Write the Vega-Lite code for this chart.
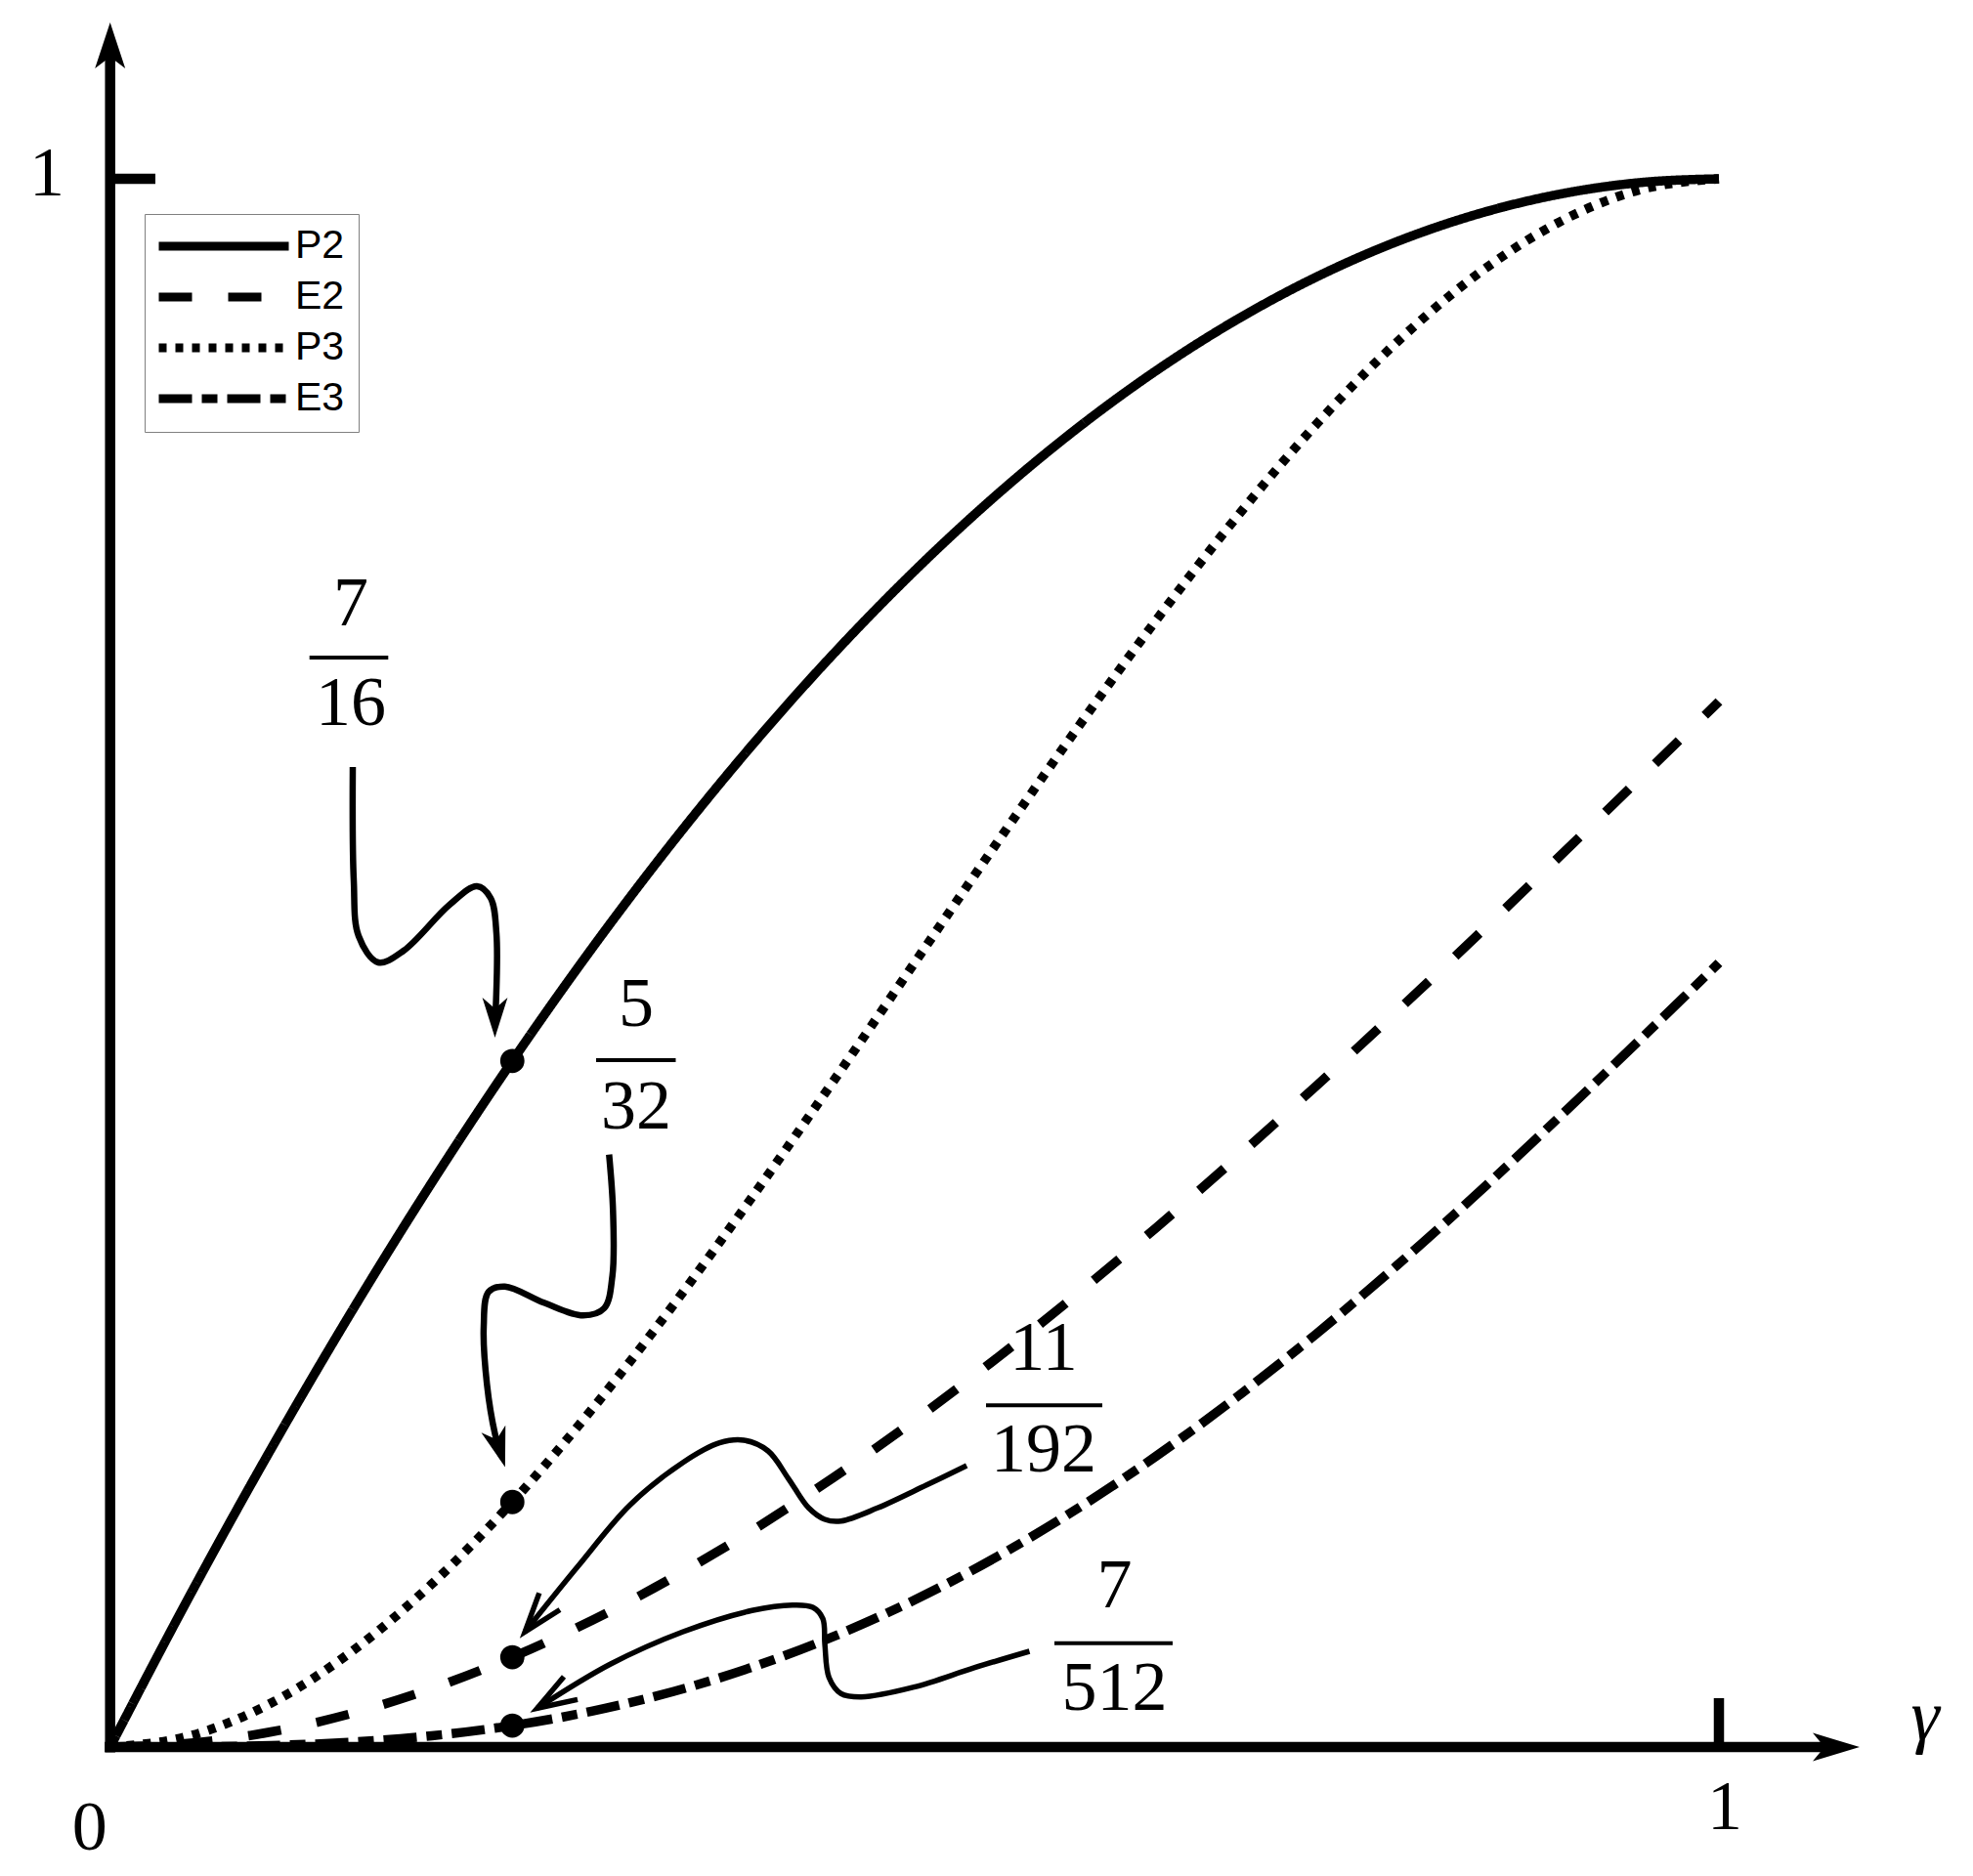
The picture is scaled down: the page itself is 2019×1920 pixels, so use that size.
{
  "$schema": "https://vega.github.io/schema/vega-lite/v6.json",
  "width": 2019,
  "height": 1920,
  "padding": 0,
  "autosize": {"type": "none"},
  "background": "white",
  "config": {"view": {"stroke": null}},
  "datasets": {
    "curves": [
      {"series": "P2", "g": 0, "v": 0}, {"series": "P2", "g": 0.05, "v": 0.0975}, {"series": "P2", "g": 0.1, "v": 0.19}, {"series": "P2", "g": 0.15, "v": 0.2775}, {"series": "P2", "g": 0.2, "v": 0.36}, {"series": "P2", "g": 0.25, "v": 0.4375}, {"series": "P2", "g": 0.3, "v": 0.51}, {"series": "P2", "g": 0.35, "v": 0.5775}, {"series": "P2", "g": 0.4, "v": 0.64}, {"series": "P2", "g": 0.45, "v": 0.6975}, {"series": "P2", "g": 0.5, "v": 0.75}, {"series": "P2", "g": 0.55, "v": 0.7975}, {"series": "P2", "g": 0.6, "v": 0.84}, {"series": "P2", "g": 0.65, "v": 0.8775}, {"series": "P2", "g": 0.7, "v": 0.91}, {"series": "P2", "g": 0.75, "v": 0.9375}, {"series": "P2", "g": 0.8, "v": 0.96}, {"series": "P2", "g": 0.85, "v": 0.9775}, {"series": "P2", "g": 0.9, "v": 0.99}, {"series": "P2", "g": 0.95, "v": 0.9975}, {"series": "P2", "g": 1, "v": 1},
      {"series": "E2", "g": 0, "v": 0}, {"series": "E2", "g": 0.05, "v": 0.002458}, {"series": "E2", "g": 0.1, "v": 0.009667}, {"series": "E2", "g": 0.15, "v": 0.021375}, {"series": "E2", "g": 0.2, "v": 0.037333}, {"series": "E2", "g": 0.25, "v": 0.057292}, {"series": "E2", "g": 0.3, "v": 0.081}, {"series": "E2", "g": 0.35, "v": 0.108208}, {"series": "E2", "g": 0.4, "v": 0.138667}, {"series": "E2", "g": 0.45, "v": 0.172125}, {"series": "E2", "g": 0.5, "v": 0.208333}, {"series": "E2", "g": 0.55, "v": 0.247042}, {"series": "E2", "g": 0.6, "v": 0.288}, {"series": "E2", "g": 0.65, "v": 0.330958}, {"series": "E2", "g": 0.7, "v": 0.375667}, {"series": "E2", "g": 0.75, "v": 0.421875}, {"series": "E2", "g": 0.8, "v": 0.469333}, {"series": "E2", "g": 0.85, "v": 0.517792}, {"series": "E2", "g": 0.9, "v": 0.567}, {"series": "E2", "g": 0.95, "v": 0.616708}, {"series": "E2", "g": 1, "v": 0.666667},
      {"series": "P3", "g": 0, "v": 0}, {"series": "P3", "g": 0.05, "v": 0.00725}, {"series": "P3", "g": 0.1, "v": 0.028}, {"series": "P3", "g": 0.15, "v": 0.06075}, {"series": "P3", "g": 0.2, "v": 0.104}, {"series": "P3", "g": 0.25, "v": 0.15625}, {"series": "P3", "g": 0.3, "v": 0.216}, {"series": "P3", "g": 0.35, "v": 0.28175}, {"series": "P3", "g": 0.4, "v": 0.352}, {"series": "P3", "g": 0.45, "v": 0.42525}, {"series": "P3", "g": 0.5, "v": 0.5}, {"series": "P3", "g": 0.55, "v": 0.57475}, {"series": "P3", "g": 0.6, "v": 0.648}, {"series": "P3", "g": 0.65, "v": 0.71825}, {"series": "P3", "g": 0.7, "v": 0.784}, {"series": "P3", "g": 0.75, "v": 0.84375}, {"series": "P3", "g": 0.8, "v": 0.896}, {"series": "P3", "g": 0.85, "v": 0.93925}, {"series": "P3", "g": 0.9, "v": 0.972}, {"series": "P3", "g": 0.95, "v": 0.99275}, {"series": "P3", "g": 1, "v": 1},
      {"series": "E3", "g": 0, "v": 0}, {"series": "E3", "g": 0.05, "v": 0.000122}, {"series": "E3", "g": 0.1, "v": 0.00095}, {"series": "E3", "g": 0.15, "v": 0.003122}, {"series": "E3", "g": 0.2, "v": 0.0072}, {"series": "E3", "g": 0.25, "v": 0.013672}, {"series": "E3", "g": 0.3, "v": 0.02295}, {"series": "E3", "g": 0.35, "v": 0.035372}, {"series": "E3", "g": 0.4, "v": 0.0512}, {"series": "E3", "g": 0.45, "v": 0.070622}, {"series": "E3", "g": 0.5, "v": 0.09375}, {"series": "E3", "g": 0.55, "v": 0.120622}, {"series": "E3", "g": 0.6, "v": 0.1512}, {"series": "E3", "g": 0.65, "v": 0.185372}, {"series": "E3", "g": 0.7, "v": 0.22295}, {"series": "E3", "g": 0.75, "v": 0.263672}, {"series": "E3", "g": 0.8, "v": 0.3072}, {"series": "E3", "g": 0.85, "v": 0.353122}, {"series": "E3", "g": 0.9, "v": 0.40095}, {"series": "E3", "g": 0.95, "v": 0.450122}, {"series": "E3", "g": 1, "v": 0.5}
    ],
    "axes": [
      {"x": 0, "x2": 0, "y": -0.00343, "y2": 1.07975},
      {"x": -0.00334, "x2": 1.06925, "y": 0, "y2": 0},
      {"x": 0, "x2": 0.02812, "y": 1, "y2": 1},
      {"x": 1, "x2": 1, "y": 0, "y2": 0.03115}
    ],
    "bars": [
      {"x": 0.12391, "x2": 0.17287, "y": 0.6947, "y2": 0.6947},
      {"x": 0.30207, "x2": 0.35157, "y": 0.43801, "y2": 0.43801},
      {"x": 0.54444, "x2": 0.61672, "y": 0.21788, "y2": 0.21788},
      {"x": 0.58695, "x2": 0.66045, "y": 0.06623, "y2": 0.06623}
    ],
    "labels": [
      {"t": "1", "x": -0.0393, "y": 1.00312},
      {"t": "0", "x": -0.01276, "y": -0.05202},
      {"t": "1", "x": 1.00364, "y": -0.03832},
      {"t": "7", "x": 0.14961, "y": 0.72897},
      {"t": "16", "x": 0.14961, "y": 0.66542},
      {"t": "5", "x": 0.32698, "y": 0.47352},
      {"t": "32", "x": 0.32698, "y": 0.4081},
      {"t": "11", "x": 0.58027, "y": 0.25421},
      {"t": "192", "x": 0.58027, "y": 0.18941},
      {"t": "7", "x": 0.6243, "y": 0.1028},
      {"t": "512", "x": 0.6243, "y": 0.03769}
    ],
    "dots": [
      {"x": 0.25, "y": 0.4375}, {"x": 0.25, "y": 0.15625}, {"x": 0.25, "y": 0.057292}, {"x": 0.25, "y": 0.013672}
    ],
    "arrowsThick": [
      {"arrow": "A", "i": 0, "x": 0.15082, "y": 0.62492}, {"arrow": "A", "i": 1, "x": 0.15143, "y": 0.55265}, {"arrow": "A", "i": 2, "x": 0.15447, "y": 0.51713}, {"arrow": "A", "i": 3, "x": 0.16662, "y": 0.50031}, {"arrow": "A", "i": 4, "x": 0.18241, "y": 0.50779}, {"arrow": "A", "i": 5, "x": 0.21096, "y": 0.53707}, {"arrow": "A", "i": 6, "x": 0.22796, "y": 0.54891}, {"arrow": "A", "i": 7, "x": 0.23647, "y": 0.54143}, {"arrow": "A", "i": 8, "x": 0.24011, "y": 0.519}, {"arrow": "A", "i": 9, "x": 0.2395, "y": 0.46604},
      {"arrow": "B", "i": 0, "x": 0.31015, "y": 0.37782}, {"arrow": "B", "i": 1, "x": 0.31258, "y": 0.34206}, {"arrow": "B", "i": 2, "x": 0.31221, "y": 0.30056}, {"arrow": "B", "i": 3, "x": 0.30711, "y": 0.27981}, {"arrow": "B", "i": 4, "x": 0.29399, "y": 0.2752}, {"arrow": "B", "i": 5, "x": 0.26969, "y": 0.2833}, {"arrow": "B", "i": 6, "x": 0.2454, "y": 0.29364}, {"arrow": "B", "i": 7, "x": 0.23525, "y": 0.29022}, {"arrow": "B", "i": 8, "x": 0.23222, "y": 0.26829}, {"arrow": "B", "i": 9, "x": 0.23422, "y": 0.2314}, {"arrow": "B", "i": 10, "x": 0.23932, "y": 0.19919}, {"arrow": "B", "i": 11, "x": 0.24132, "y": 0.19203}
    ],
    "arrowsThin": [
      {"arrow": "C", "i": 0, "x": 0.5324, "y": 0.17944}, {"arrow": "C", "i": 1, "x": 0.50726, "y": 0.16698}, {"arrow": "C", "i": 2, "x": 0.47701, "y": 0.15246}, {"arrow": "C", "i": 3, "x": 0.45435, "y": 0.14411}, {"arrow": "C", "i": 4, "x": 0.44421, "y": 0.14517}, {"arrow": "C", "i": 5, "x": 0.43419, "y": 0.15246}, {"arrow": "C", "i": 6, "x": 0.42161, "y": 0.17115}, {"arrow": "C", "i": 7, "x": 0.40898, "y": 0.18879}, {"arrow": "C", "i": 8, "x": 0.39391, "y": 0.19564}, {"arrow": "C", "i": 9, "x": 0.37879, "y": 0.19396}, {"arrow": "C", "i": 10, "x": 0.35613, "y": 0.1815}, {"arrow": "C", "i": 11, "x": 0.32333, "y": 0.15452}, {"arrow": "C", "i": 12, "x": 0.29065, "y": 0.11508}, {"arrow": "C", "i": 13, "x": 0.25791, "y": 0.07352},
      {"arrow": "D", "i": 0, "x": 0.57146, "y": 0.06106}, {"arrow": "D", "i": 1, "x": 0.53745, "y": 0.05065}, {"arrow": "D", "i": 2, "x": 0.49966, "y": 0.03819}, {"arrow": "D", "i": 3, "x": 0.46692, "y": 0.03196}, {"arrow": "D", "i": 4, "x": 0.45435, "y": 0.03408}, {"arrow": "D", "i": 5, "x": 0.44682, "y": 0.04442}, {"arrow": "D", "i": 6, "x": 0.44427, "y": 0.06523}, {"arrow": "D", "i": 7, "x": 0.443, "y": 0.08181}, {"arrow": "D", "i": 8, "x": 0.43674, "y": 0.0891}, {"arrow": "D", "i": 9, "x": 0.42416, "y": 0.09053}, {"arrow": "D", "i": 10, "x": 0.39895, "y": 0.08704}, {"arrow": "D", "i": 11, "x": 0.35613, "y": 0.07352}, {"arrow": "D", "i": 12, "x": 0.31082, "y": 0.05277}, {"arrow": "D", "i": 13, "x": 0.26551, "y": 0.02474}
    ]
  },
  "layer": [
    {
      "data": {"name": "axes"},
      "mark": {"type": "rule", "color": "black", "strokeWidth": 10.5},
      "encoding": {
        "x": {"field": "x", "type": "quantitative", "scale": {"domain": [-0.068456, 1.15793], "nice": false, "zero": false}, "axis": null},
        "x2": {"field": "x2"},
        "y": {"field": "y", "type": "quantitative", "scale": {"domain": [-0.082243, 1.114019], "nice": false, "zero": false}, "axis": null},
        "y2": {"field": "y2"}
      }
    },
    {
      "data": {"values": [{"x": 0, "y": 1.08505}]},
      "mark": {"type": "point", "shape": "M0,-1L0.66,1L0,0.5L-0.66,1Z", "filled": true, "color": "black", "opacity": 1, "size": 2209, "angle": 0},
      "encoding": {
        "x": {"field": "x", "type": "quantitative", "scale": {"domain": [-0.068456, 1.15793], "nice": false, "zero": false}, "axis": null},
        "y": {"field": "y", "type": "quantitative", "scale": {"domain": [-0.082243, 1.114019], "nice": false, "zero": false}, "axis": null}
      }
    },
    {
      "data": {"values": [{"x": 1.07289, "y": 0}]},
      "mark": {"type": "point", "shape": "M0,-1L0.6,1L0,0.5L-0.6,1Z", "filled": true, "color": "black", "opacity": 1, "size": 2304, "angle": 90},
      "encoding": {
        "x": {"field": "x", "type": "quantitative", "scale": {"domain": [-0.068456, 1.15793], "nice": false, "zero": false}, "axis": null},
        "y": {"field": "y", "type": "quantitative", "scale": {"domain": [-0.082243, 1.114019], "nice": false, "zero": false}, "axis": null}
      }
    },
    {
      "data": {"name": "curves"},
      "mark": {"type": "line", "color": "black", "strokeWidth": 9.5, "interpolate": "monotone"},
      "encoding": {
        "x": {"field": "g", "type": "quantitative", "scale": {"domain": [-0.068456, 1.15793], "nice": false, "zero": false}, "axis": null},
        "y": {"field": "v", "type": "quantitative", "scale": {"domain": [-0.082243, 1.114019], "nice": false, "zero": false}, "axis": null},
        "strokeDash": {
          "field": "series", "type": "nominal",
          "scale": {"domain": ["P2", "E2", "P3", "E3"], "range": [[1, 0], [34, 37], [8, 9], [34, 10, 16, 10]]},
          "legend": {
            "title": null, "orient": "none", "legendX": 148, "legendY": 219, "direction": "vertical",
            "padding": 14, "strokeColor": "#808080", "fillColor": "white", "cornerRadius": 0,
            "symbolType": "stroke", "symbolSize": 17689, "symbolStrokeWidth": 9, "symbolStrokeColor": "black", "symbolOffset": -4,
            "labelFont": "Liberation Sans", "labelFontSize": 41, "labelColor": "black", "labelOffset": 2,
            "clipHeight": 38, "rowPadding": 11
          }
        }
      }
    },
    {
      "data": {"name": "arrowsThick"},
      "mark": {"type": "line", "color": "black", "strokeWidth": 6.5, "interpolate": "catmull-rom"},
      "encoding": {
        "x": {"field": "x", "type": "quantitative", "scale": {"domain": [-0.068456, 1.15793], "nice": false, "zero": false}, "axis": null},
        "y": {"field": "y", "type": "quantitative", "scale": {"domain": [-0.082243, 1.114019], "nice": false, "zero": false}, "axis": null},
        "detail": {"field": "arrow"},
        "order": {"field": "i", "type": "quantitative"}
      }
    },
    {
      "data": {"name": "arrowsThin"},
      "mark": {"type": "line", "color": "black", "strokeWidth": 5.5, "interpolate": "catmull-rom"},
      "encoding": {
        "x": {"field": "x", "type": "quantitative", "scale": {"domain": [-0.068456, 1.15793], "nice": false, "zero": false}, "axis": null},
        "y": {"field": "y", "type": "quantitative", "scale": {"domain": [-0.082243, 1.114019], "nice": false, "zero": false}, "axis": null},
        "detail": {"field": "arrow"},
        "order": {"field": "i", "type": "quantitative"}
      }
    },
    {
      "data": {"values": [{"x": 0.2392, "y": 0.46511}]},
      "mark": {"type": "point", "shape": "M0,-1L0.63,1L0,0.45L-0.63,1Z", "filled": true, "color": "black", "opacity": 1, "size": 1681, "angle": 180},
      "encoding": {
        "x": {"field": "x", "type": "quantitative", "scale": {"domain": [-0.068456, 1.15793], "nice": false, "zero": false}, "axis": null},
        "y": {"field": "y", "type": "quantitative", "scale": {"domain": [-0.082243, 1.114019], "nice": false, "zero": false}, "axis": null}
      }
    },
    {
      "data": {"values": [{"x": 0.24187, "y": 0.19065}]},
      "mark": {"type": "point", "shape": "M0,-1L0.63,1L0,0.45L-0.63,1Z", "filled": true, "color": "black", "opacity": 1, "size": 1681, "angle": 163},
      "encoding": {
        "x": {"field": "x", "type": "quantitative", "scale": {"domain": [-0.068456, 1.15793], "nice": false, "zero": false}, "axis": null},
        "y": {"field": "y", "type": "quantitative", "scale": {"domain": [-0.082243, 1.114019], "nice": false, "zero": false}, "axis": null}
      }
    },
    {
      "data": {"values": [{"x": 0.26551, "y": 0.08318}]},
      "mark": {"type": "point", "shape": "M-0.68,1L0,-1L0.68,1", "filled": false, "color": "black", "opacity": 1, "strokeWidth": 5.5, "size": 1600, "angle": 219},
      "encoding": {
        "x": {"field": "x", "type": "quantitative", "scale": {"domain": [-0.068456, 1.15793], "nice": false, "zero": false}, "axis": null},
        "y": {"field": "y", "type": "quantitative", "scale": {"domain": [-0.082243, 1.114019], "nice": false, "zero": false}, "axis": null}
      }
    },
    {
      "data": {"values": [{"x": 0.27589, "y": 0.03115}]},
      "mark": {"type": "point", "shape": "M-0.68,1L0,-1L0.68,1", "filled": false, "color": "black", "opacity": 1, "strokeWidth": 5.5, "size": 1600, "angle": 239},
      "encoding": {
        "x": {"field": "x", "type": "quantitative", "scale": {"domain": [-0.068456, 1.15793], "nice": false, "zero": false}, "axis": null},
        "y": {"field": "y", "type": "quantitative", "scale": {"domain": [-0.082243, 1.114019], "nice": false, "zero": false}, "axis": null}
      }
    },
    {
      "data": {"name": "dots"},
      "mark": {"type": "point", "shape": "circle", "filled": true, "color": "black", "opacity": 1, "size": 616},
      "encoding": {
        "x": {"field": "x", "type": "quantitative", "scale": {"domain": [-0.068456, 1.15793], "nice": false, "zero": false}, "axis": null},
        "y": {"field": "y", "type": "quantitative", "scale": {"domain": [-0.082243, 1.114019], "nice": false, "zero": false}, "axis": null}
      }
    },
    {
      "data": {"name": "bars"},
      "mark": {"type": "rule", "color": "black", "strokeWidth": 4},
      "encoding": {
        "x": {"field": "x", "type": "quantitative", "scale": {"domain": [-0.068456, 1.15793], "nice": false, "zero": false}, "axis": null},
        "x2": {"field": "x2"},
        "y": {"field": "y", "type": "quantitative", "scale": {"domain": [-0.082243, 1.114019], "nice": false, "zero": false}, "axis": null},
        "y2": {"field": "y2"}
      }
    },
    {
      "data": {"name": "labels"},
      "mark": {"type": "text", "font": "Liberation Serif", "fontSize": 72, "align": "center", "baseline": "middle", "color": "black"},
      "encoding": {
        "x": {"field": "x", "type": "quantitative", "scale": {"domain": [-0.068456, 1.15793], "nice": false, "zero": false}, "axis": null},
        "y": {"field": "y", "type": "quantitative", "scale": {"domain": [-0.082243, 1.114019], "nice": false, "zero": false}, "axis": null},
        "text": {"field": "t", "type": "nominal"}
      }
    },
    {
      "data": {"values": [{"t": "γ", "x": 1.12817, "y": 0.00498}]},
      "mark": {"type": "text", "font": "Liberation Serif", "fontStyle": "italic", "fontSize": 74, "align": "center", "baseline": "alphabetic", "color": "black"},
      "encoding": {
        "x": {"field": "x", "type": "quantitative", "scale": {"domain": [-0.068456, 1.15793], "nice": false, "zero": false}, "axis": null},
        "y": {"field": "y", "type": "quantitative", "scale": {"domain": [-0.082243, 1.114019], "nice": false, "zero": false}, "axis": null},
        "text": {"field": "t", "type": "nominal"}
      }
    }
  ]
}
